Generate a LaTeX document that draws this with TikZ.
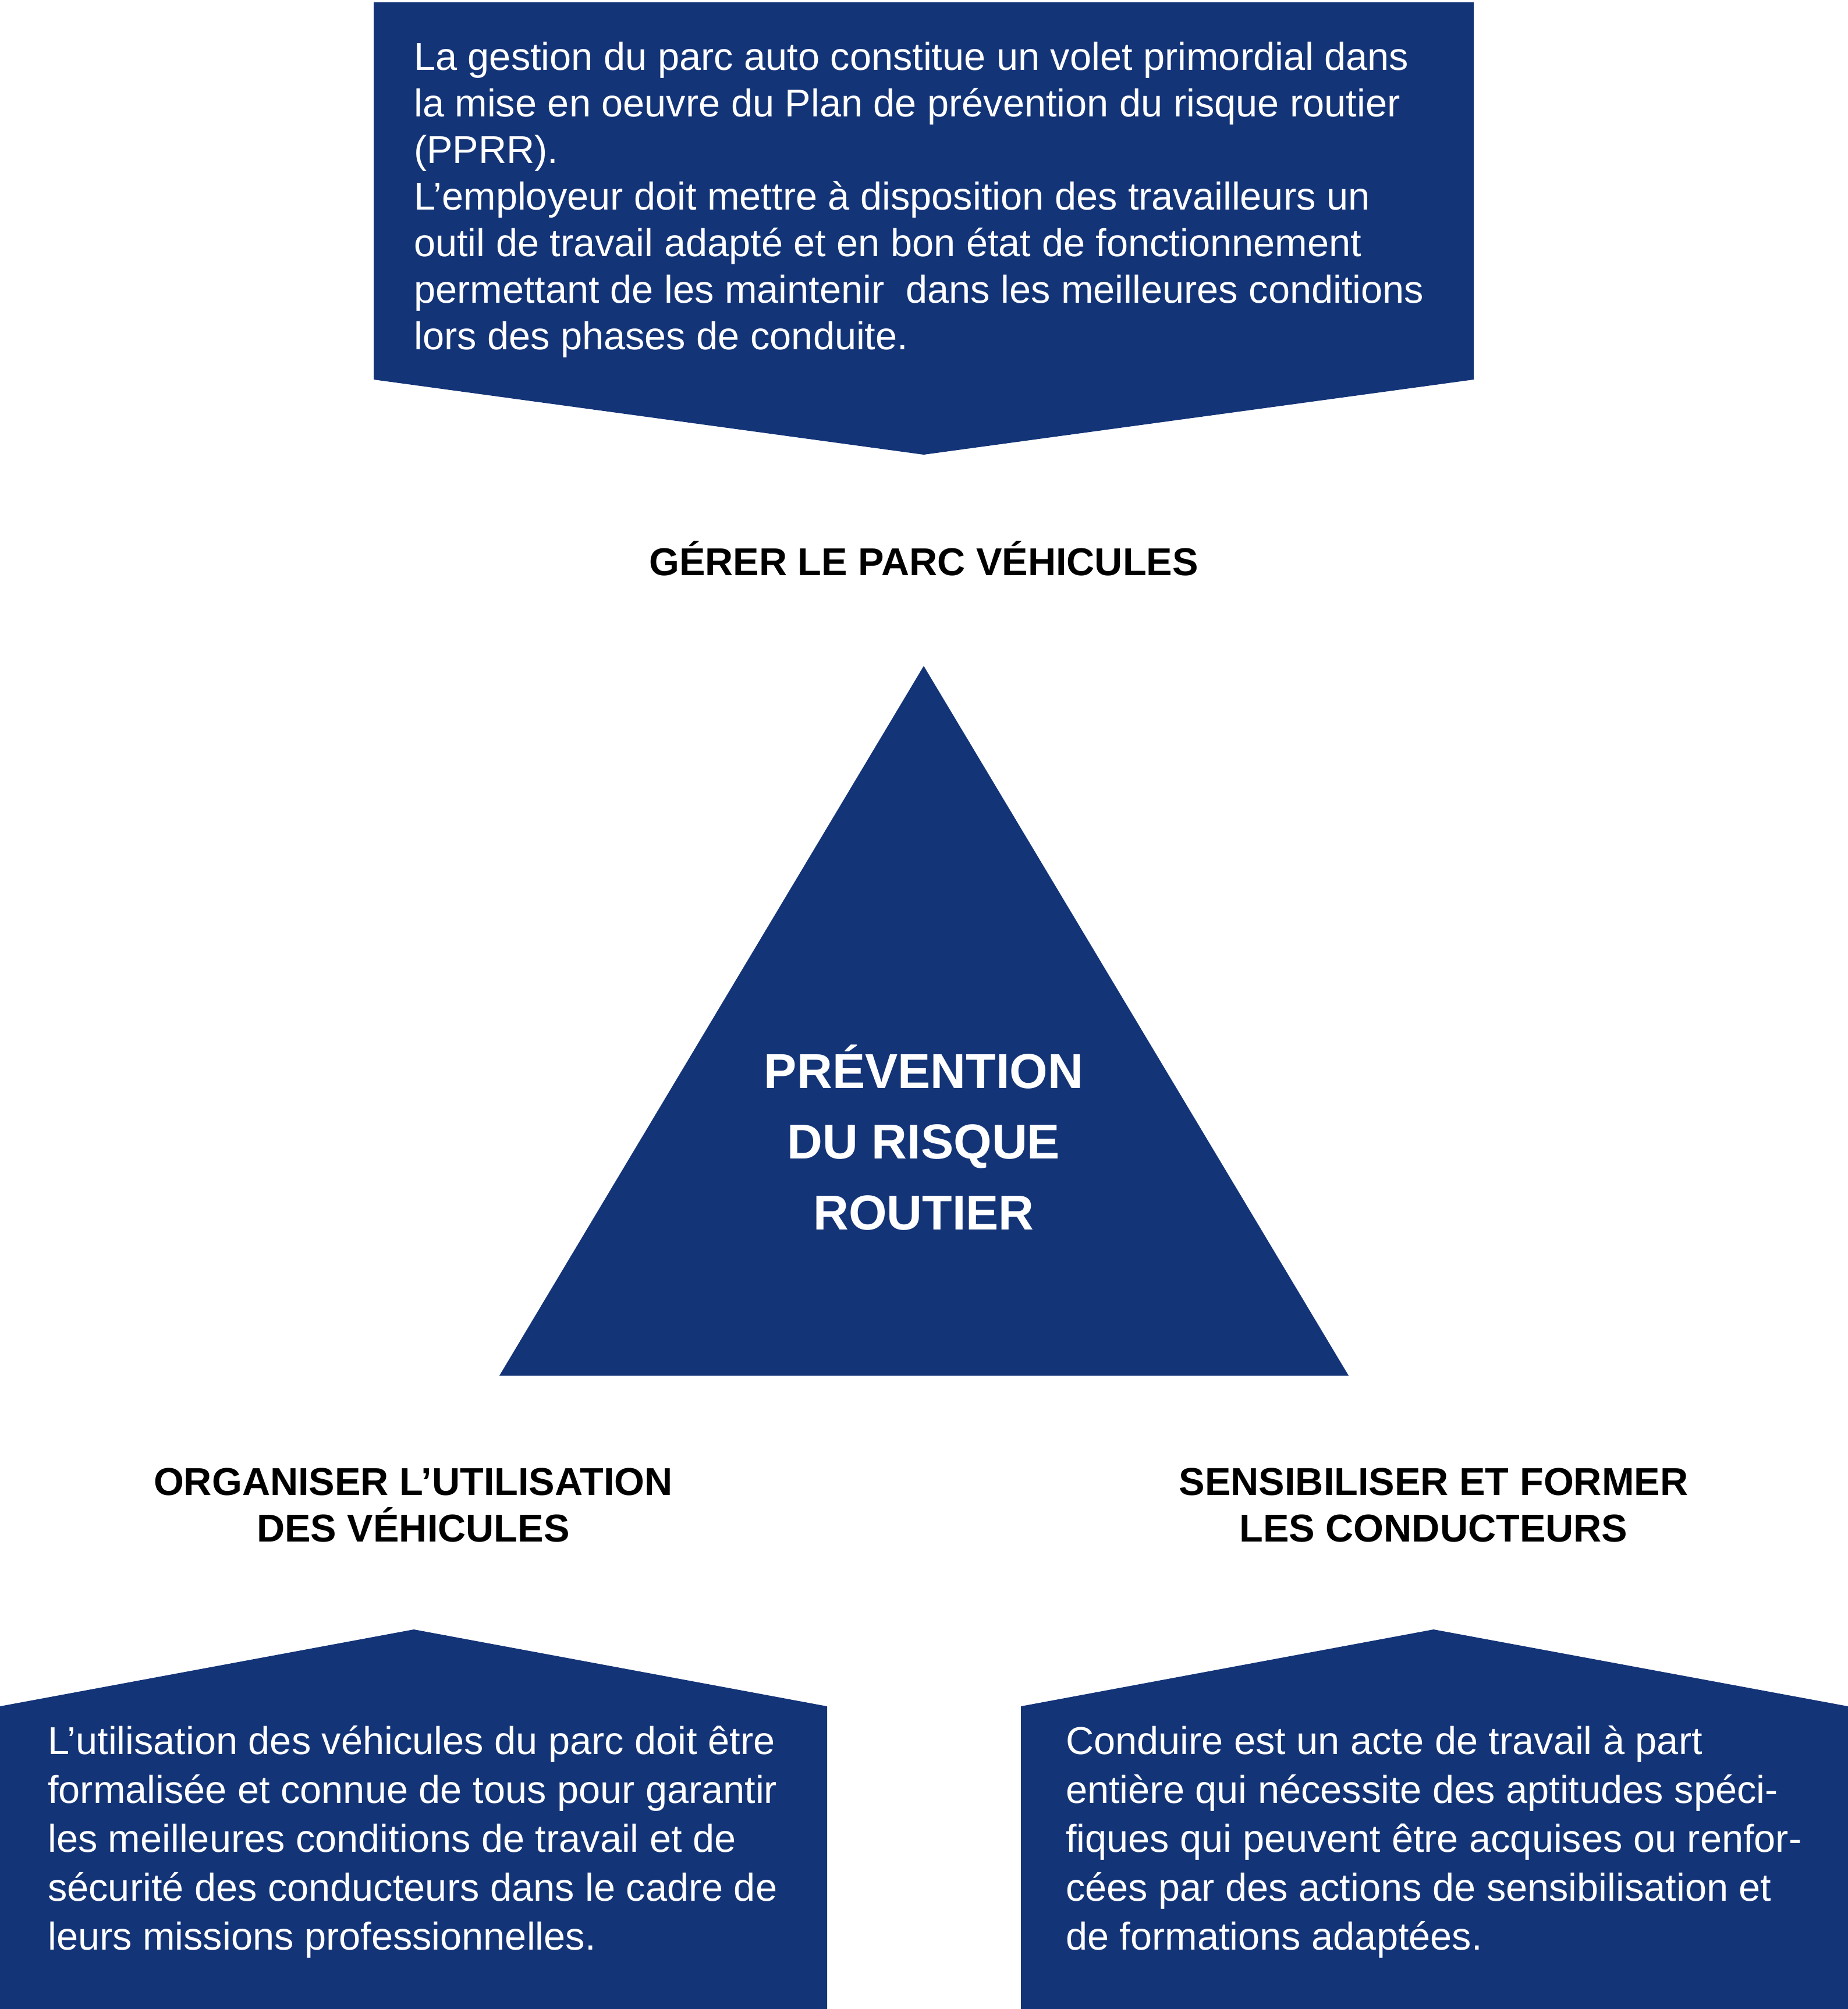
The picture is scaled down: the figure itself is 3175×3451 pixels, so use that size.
\documentclass[tikz,border=0pt]{standalone}
\usepackage{fontspec}
\setmainfont{Liberation Sans}
\definecolor{navy}{RGB}{20,52,120}
\tikzset{
  panel/.style={fill=navy},
  bodytext/.style={anchor=base west, inner sep=0pt, text=white},
  headtext/.style={anchor=base, inner sep=0pt, text=black},
}
\begin{document}
\begin{tikzpicture}[x=1pt,y=-1pt]
\useasboundingbox (0,0) rectangle (3175,3451);
\fill[white] (0,0) rectangle (3175,3451);
% shapes
\fill[panel] (642,4) -- (2532,4) -- (2532,652) -- (1587,781) -- (642,652) -- cycle;
\fill[panel] (1587,1144) -- (2317,2363) -- (858,2363) -- cycle;
\fill[panel] (0,2931) -- (711,2799) -- (1421,2931) -- (1421,3451) -- (0,3451) -- cycle;
\fill[panel] (1754,2931) -- (2463,2799) -- (3175,2931) -- (3175,3451) -- (1754,3451) -- cycle;
% texts
\node[bodytext] (toptext) at (711,120) {\parbox[t]{1950pt}{\raggedright\fontsize{66.7}{80}\selectfont
La gestion du parc auto constitue un volet primordial dans\\
la mise en oeuvre du Plan de prévention du risque routier\\
(PPRR).\\
L’employeur doit mettre à disposition des travailleurs un\\
outil de travail adapté et en bon état de fonctionnement\\
permettant de les maintenir~ dans les meilleures conditions\\
lors des phases de conduite.}};
\node[headtext] (gerer) at (1587,988) {\fontsize{66.7}{80}\selectfont\bfseries GÉRER LE PARC VÉHICULES};
\node[headtext,text=white] (prev) at (1587,1869) {\parbox[t]{900pt}{\centering\fontsize{84.3}{121.5}\selectfont\bfseries PRÉVENTION\\DU RISQUE\\ROUTIER}};
\node[headtext] (orga) at (710,2568) {\parbox[t]{1400pt}{\centering\fontsize{66.7}{80}\selectfont\bfseries ORGANISER L’UTILISATION\\DES VÉHICULES}};
\node[headtext] (sensi) at (2463,2568) {\parbox[t]{1400pt}{\centering\fontsize{66.7}{80}\selectfont\bfseries SENSIBILISER ET FORMER\\LES CONDUCTEURS}};
\node[bodytext] (lefttext) at (82,3013) {\parbox[t]{1330pt}{\raggedright\fontsize{66.7}{84}\selectfont
L’utilisation des véhicules du parc doit être\\
formalisée et connue de tous pour garantir\\
les meilleures conditions de travail et de\\
sécurité des conducteurs dans le cadre de\\
leurs missions professionnelles.}};
\node[bodytext] (righttext) at (1831,3013) {\parbox[t]{1330pt}{\raggedright\fontsize{66.7}{84}\selectfont
Conduire est un acte de travail à part\\
entière qui nécessite des aptitudes spéci-\\
fiques qui peuvent être acquises ou renfor-\\
cées par des actions de sensibilisation et\\
de formations adaptées.}};
\end{tikzpicture}
\end{document}
